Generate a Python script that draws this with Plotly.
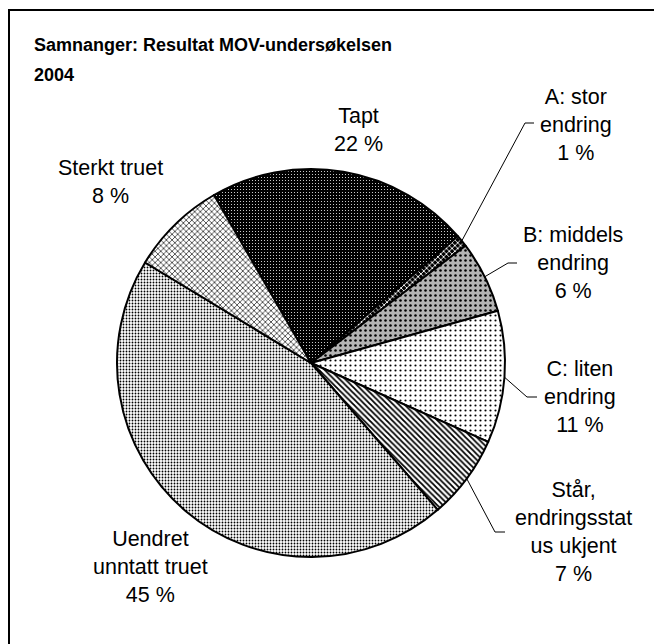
import math
import plotly.graph_objects as go

# data
labels = ["Tapt", "A: stor<br>endring", "B: middels<br>endring", "C: liten<br>endring",
          "Står,<br>endringsstat<br>us ukjent", "Uendret<br>unntatt truet", "Sterkt truet"]
shares = [22, 1, 6, 11, 7, 45, 8]
title_lines = ["Samnanger: Resultat MOV-undersøkelsen", "2004"]

# slice styling (black & white Excel style patterns)
bg = ["#000000", "#000000", "#b4b4b4", "#ffffff", "#ffffff", "#ffffff", "#ffffff"]
fg = ["#ffffff", "#ffffff", "#000000", "#000000", "#000000", "#000000", "#000000"]
pat = [".", "x", ".", ".", "\\", ".", "x"]
pat_size = [3, 4, 5, 5, 4, 3, 4]
pat_solid = [0.1, 0.4, 0.2, 0.15, 0.45, 0.3, 0.3]

W, H = 662, 644
OFF = 8   # page body margin of the browser
cx, cy, r = 311, 363, 194   # pie geometry in screen pixels
rotation = -30

# label block centres (px) and leader elbows for the small slices
label_pos = [(358, 130), (576, 125), (573, 263), (580, 397), (573, 532), (150, 567), (110, 182)]
leaders = {1: (525, 123, 534), 2: (508, 263, 517), 3: (527, 397, 537), 4: (495, 532, 505)}

FONT = "Liberation Sans, Arial, sans-serif"


def px(x):
    return (x - OFF) / W


def py(y):
    return 1 - (y - OFF) / H


fig = go.Figure()
fig.add_trace(go.Pie(
    labels=labels,
    values=shares,
    sort=False,
    direction="clockwise",
    rotation=rotation,
    textinfo="none",
    hoverinfo="label+percent",
    showlegend=False,
    domain=dict(x=[px(cx - r), px(cx + r)], y=[py(cy + r), py(cy - r)]),
    marker=dict(
        colors=bg,
        line=dict(color="black", width=2),
        pattern=dict(shape=pat, bgcolor=bg, fgcolor=fg, size=pat_size,
                     solidity=pat_solid, fillmode="replace"),
    ),
))

annotations = []
shapes = []
for i, (lab, v) in enumerate(zip(labels, shares)):
    lx, ly = label_pos[i]
    annotations.append(dict(
        x=px(lx), y=py(ly), xref="paper", yref="paper",
        text=f"{lab}<br>{v} %", showarrow=False, align="center",
        xanchor="center", yanchor="middle",
        font=dict(family=FONT, size=21.5, color="black"),
    ))
    if i in leaders:
        mid = rotation + 3.6 * (sum(shares[:i]) + v / 2)
        sx = cx + r * math.sin(math.radians(mid))
        sy = cy - r * math.cos(math.radians(mid))
        ex, ey, hx = leaders[i]
        shapes.append(dict(
            type="path", xref="paper", yref="paper",
            path=f"M {px(sx)},{py(sy)} L {px(ex)},{py(ey)} L {px(hx)},{py(ey)}",
            line=dict(color="black", width=1),
        ))

# title, two lines
for k, t in enumerate(title_lines):
    annotations.append(dict(
        x=px(32), y=py(45 + 30 * k), xref="paper", yref="paper",
        text=f"<b>{t}</b>", showarrow=False, align="left",
        xanchor="left", yanchor="middle",
        font=dict(family=FONT, size=18, color="black"),
    ))

# chart area frame (only top and left edge visible in the crop)
shapes.append(dict(type="rect", xref="paper", yref="paper",
                   x0=px(9), y0=-0.05, x1=1.05, y1=py(10),
                   line=dict(color="black", width=2)))

fig.update_layout(
    width=W, height=H,
    margin=dict(l=0, r=0, t=0, b=0),
    paper_bgcolor="white",
    plot_bgcolor="white",
    annotations=annotations,
    shapes=shapes,
)

fig.write_html("out.html")
